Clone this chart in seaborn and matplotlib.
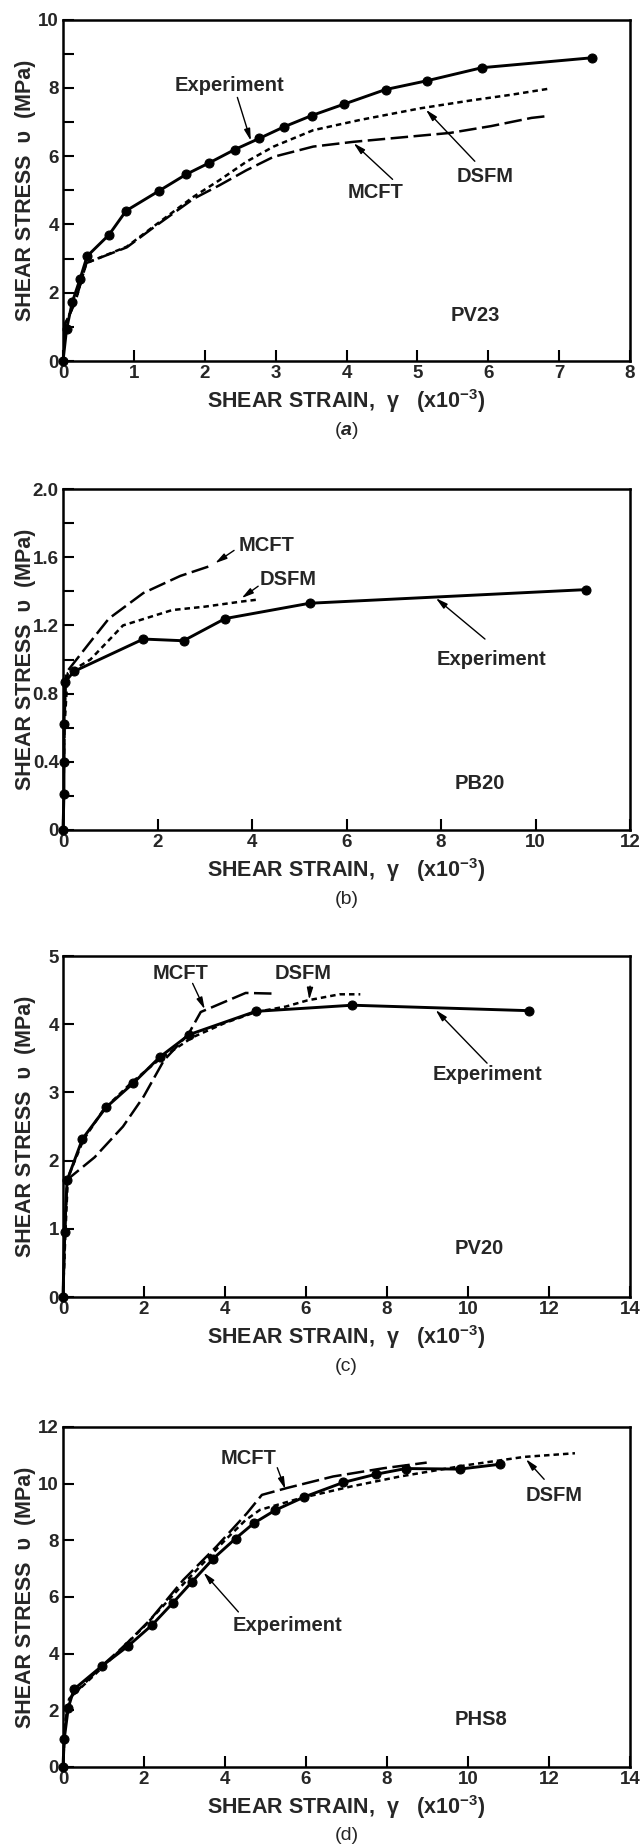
import numpy as np
import pandas as pd
import matplotlib
matplotlib.use("Agg")
import matplotlib.pyplot as plt
import seaborn as sns
from matplotlib.ticker import FixedLocator, FixedFormatter

# ---------------- data ----------------
# Panel (a) PV23
a_exp_x = [0, 0.05, 0.13, 0.24, 0.34, 0.65, 0.89, 1.36, 1.74, 2.06, 2.42, 2.77, 3.12, 3.51, 3.96, 4.55, 5.14, 5.91, 7.46]
a_exp_y = [0, 0.93, 1.72, 2.40, 3.07, 3.70, 4.40, 4.99, 5.47, 5.80, 6.19, 6.52, 6.86, 7.19, 7.52, 7.95, 8.21, 8.59, 8.88]
a_dsfm_x = [0, 0.03, 0.17, 0.26, 0.33, 0.90, 1.27, 1.84, 2.21, 2.59, 2.97, 3.53, 4.19, 5.04, 5.75, 6.33, 6.87]
a_dsfm_y = [0, 1.10, 1.70, 2.37, 2.87, 3.35, 3.93, 4.81, 5.30, 5.84, 6.28, 6.76, 7.06, 7.40, 7.63, 7.80, 7.98]
a_mcft_x = [0, 0.03, 0.17, 0.26, 0.33, 0.90, 1.27, 1.84, 2.21, 2.59, 2.97, 3.53, 4.10, 5.04, 5.46, 6.04, 6.61, 6.82]
a_mcft_y = [0, 1.10, 1.70, 2.37, 2.87, 3.33, 3.90, 4.75, 5.15, 5.59, 5.98, 6.28, 6.42, 6.60, 6.68, 6.88, 7.12, 7.17]

# Panel (b) PB20
b_exp_x = [0, 0.02, 0.02, 0.02, 0.05, 0.23, 1.70, 2.55, 3.43, 5.22, 11.07]
b_exp_y = [0, 0.21, 0.40, 0.62, 0.87, 0.93, 1.12, 1.11, 1.24, 1.33, 1.41]
b_mcft_x = [0, 0.03, 0.06, 0.54, 0.97, 1.70, 2.48, 3.13]
b_mcft_y = [0, 0.60, 0.92, 1.09, 1.24, 1.39, 1.49, 1.55]
b_dsfm_x = [0, 0.03, 0.10, 0.58, 1.27, 2.31, 3.00, 3.78, 4.08]
b_dsfm_y = [0, 0.60, 0.92, 1.00, 1.20, 1.29, 1.31, 1.34, 1.35]

# Panel (c) PV20
c_exp_x = [0, 0.04, 0.10, 0.48, 1.06, 1.74, 2.39, 3.12, 4.76, 7.14, 11.50]
c_exp_y = [0, 0.96, 1.71, 2.32, 2.78, 3.14, 3.52, 3.85, 4.19, 4.28, 4.20]
c_mcft_x = [0, 0.05, 0.10, 0.78, 1.48, 1.99, 2.49, 3.10, 3.40, 4.51, 5.22]
c_mcft_y = [0, 0.95, 1.72, 2.05, 2.50, 2.94, 3.47, 3.86, 4.18, 4.46, 4.45]
c_dsfm_x = [0, 0.06, 0.12, 0.50, 1.00, 1.70, 2.39, 3.20, 4.00, 4.76, 5.50, 6.03, 6.83, 7.34]
c_dsfm_y = [0, 0.95, 1.75, 2.30, 2.75, 3.15, 3.49, 3.81, 4.02, 4.18, 4.26, 4.35, 4.44, 4.44]

# Panel (d) PHS8
d_exp_x = [0, 0.03, 0.13, 0.27, 0.96, 1.61, 2.20, 2.72, 3.19, 3.71, 4.26, 4.71, 5.24, 5.96, 6.92, 7.73, 8.46, 9.79, 10.78]
d_exp_y = [0, 0.98, 2.09, 2.74, 3.56, 4.27, 5.01, 5.80, 6.54, 7.35, 8.06, 8.60, 9.06, 9.53, 10.04, 10.33, 10.53, 10.51, 10.68]
d_mcft_x = [0, 0.05, 0.15, 1.00, 1.51, 2.15, 2.97, 3.79, 4.54, 4.91, 5.52, 6.67, 7.91, 8.98]
d_mcft_y = [0, 1.50, 2.40, 3.62, 4.27, 5.19, 6.60, 7.78, 8.95, 9.60, 9.84, 10.25, 10.54, 10.74]
d_dsfm_x = [0, 0.05, 0.15, 1.00, 2.00, 3.00, 4.00, 4.50, 4.86, 5.85, 7.09, 8.32, 9.97, 11.38, 12.64]
d_dsfm_y = [0, 1.50, 2.40, 3.55, 4.95, 6.50, 8.00, 8.70, 9.07, 9.48, 9.89, 10.25, 10.65, 10.94, 11.07]

# ticks
a_xticks = [0, 1, 2, 3, 4, 5, 6, 7, 8]
a_xticklabels = ["0", "1", "2", "3", "4", "5", "6", "7", "8"]
a_yticks = [0, 2, 4, 6, 8, 10]
a_yticklabels = ["0", "2", "4", "6", "8", "10"]
a_yminor = [1, 3, 5, 7, 9]

b_xticks = [0, 2, 4, 6, 8, 10, 12]
b_xticklabels = ["0", "2", "4", "6", "8", "10", "12"]
b_yticks = [0, 0.4, 0.8, 1.2, 1.6, 2.0]
b_yticklabels = ["0", "0.4", "0.8", "1.2", "1.6", "2.0"]
b_yminor = [0.2, 0.6, 1.0, 1.4, 1.8]

c_xticks = [0, 2, 4, 6, 8, 10, 12, 14]
c_xticklabels = ["0", "2", "4", "6", "8", "10", "12", "14"]
c_yticks = [0, 1, 2, 3, 4, 5]
c_yticklabels = ["0", "1", "2", "3", "4", "5"]
c_yminor = []

d_xticks = [0, 2, 4, 6, 8, 10, 12, 14]
d_xticklabels = ["0", "2", "4", "6", "8", "10", "12", "14"]
d_yticks = [0, 2, 4, 6, 8, 10, 12]
d_yticklabels = ["0", "2", "4", "6", "8", "10", "12"]
d_yminor = []

specimens = ["PV23", "PB20", "PV20", "PHS8"]
captions = [r"($\mathit{a}$)", "(b)", "(c)", "(d)"]
xlabel_text = "SHEAR STRAIN,  \u03b3   (x10$^{\\mathbf{-3}}$)"
ylabel_text = "SHEAR STRESS  \u03c5  (MPa)"

# ---------------- style ----------------
sns.set_style("white")
FONTS = ["Liberation Sans", "DejaVu Sans"]
plt.rcParams["font.family"] = FONTS
plt.rcParams["font.weight"] = "bold"
plt.rcParams["mathtext.fontset"] = "custom"
plt.rcParams["mathtext.rm"] = "Liberation Sans"
plt.rcParams["mathtext.it"] = "Liberation Sans:italic"
plt.rcParams["mathtext.bf"] = "Liberation Sans:bold"

fig = plt.figure(figsize=(6.41, 18.44), dpi=100)
left, width = 0.0983, 0.8846
boxes = [(0.8042, 0.1852), (0.5499, 0.1849), (0.2966, 0.1849), (0.0418, 0.1844)]

panels = [
    dict(exp=(a_exp_x, a_exp_y), mcft=(a_mcft_x, a_mcft_y), dsfm=(a_dsfm_x, a_dsfm_y),
         xlim=(0, 8), ylim=(0, 10), xt=(a_xticks, a_xticklabels), yt=(a_yticks, a_yticklabels), ym=a_yminor,
         notes=[("Experiment", (2.35, 8.07), (2.46, 7.72), (2.65, 6.45)),
                ("DSFM", (5.95, 5.41), (5.81, 5.85), (5.12, 7.36)),
                ("MCFT", (4.41, 4.93), (4.65, 5.32), (4.10, 6.38))],
         spec=(5.82, 1.32)),
    dict(exp=(b_exp_x, b_exp_y), mcft=(b_mcft_x, b_mcft_y), dsfm=(b_dsfm_x, b_dsfm_y),
         xlim=(0, 12), ylim=(0, 2.0), xt=(b_xticks, b_xticklabels), yt=(b_yticks, b_yticklabels), ym=b_yminor,
         notes=[("MCFT", (4.30, 1.67), (3.62, 1.64), (3.22, 1.565)),
                ("DSFM", (4.77, 1.47), (4.13, 1.43), (3.78, 1.36)),
                ("Experiment", (9.06, 1.00), (8.93, 1.12), (7.89, 1.36))],
         spec=(8.82, 0.27)),
    dict(exp=(c_exp_x, c_exp_y), mcft=(c_mcft_x, c_mcft_y), dsfm=(c_dsfm_x, c_dsfm_y),
         xlim=(0, 14), ylim=(0, 5), xt=(c_xticks, c_xticklabels), yt=(c_yticks, c_yticklabels), ym=c_yminor,
         notes=[("MCFT", (2.90, 4.74), (3.20, 4.60), (3.50, 4.22)),
                ("DSFM", (5.93, 4.74), (6.10, 4.56), (6.08, 4.36)),
                ("Experiment", (10.47, 3.27), (10.47, 3.43), (9.20, 4.21))],
         spec=(10.27, 0.71)),
    dict(exp=(d_exp_x, d_exp_y), mcft=(d_mcft_x, d_mcft_y), dsfm=(d_dsfm_x, d_dsfm_y),
         xlim=(0, 14), ylim=(0, 12), xt=(d_xticks, d_xticklabels), yt=(d_yticks, d_yticklabels), ym=d_yminor,
         notes=[("MCFT", (4.58, 10.88), (5.29, 10.56), (5.49, 9.80)),
                ("DSFM", (12.13, 9.58), (11.88, 10.15), (11.43, 10.86)),
                ("Experiment", (5.54, 4.98), (4.33, 5.47), (3.47, 6.86))],
         spec=(10.32, 1.68)),
]

for i, (p, (bot, h)) in enumerate(zip(panels, boxes)):
    ax = fig.add_axes([left, bot, width, h])
    mx, my = p["mcft"]
    sns.lineplot(x=mx, y=my, ax=ax, sort=False, estimator=None, color="black",
                 lw=1.8, linestyle=(0, (7, 2.2)))
    dx, dy = p["dsfm"]
    sns.lineplot(x=dx, y=dy, ax=ax, sort=False, estimator=None, color="black",
                 lw=1.8, linestyle=(0, (2.2, 1.6)))
    ex, ey = p["exp"]
    sns.lineplot(x=ex, y=ey, ax=ax, sort=False, estimator=None, color="black",
                 lw=2.1, marker="o", markersize=6.5, markeredgecolor="black",
                 markerfacecolor="black", clip_on=False, zorder=5)

    ax.set_xlim(*p["xlim"])
    ax.set_ylim(*p["ylim"])
    ax.xaxis.set_major_locator(FixedLocator(p["xt"][0]))
    ax.xaxis.set_major_formatter(FixedFormatter(p["xt"][1]))
    ax.yaxis.set_major_locator(FixedLocator(p["yt"][0]))
    ax.yaxis.set_major_formatter(FixedFormatter(p["yt"][1]))
    ax.yaxis.set_minor_locator(FixedLocator(p["ym"]))
    ax.tick_params(which="both", direction="in", length=8, width=1.5,
                   bottom=True, left=True, top=False, right=False, color="black")
    ax.tick_params(axis="x", pad=3, labelsize=13.5)
    ax.tick_params(axis="y", pad=3, labelsize=13.5)
    for lab in ax.get_xticklabels() + ax.get_yticklabels():
        lab.set_fontweight("bold")
    for s in ax.spines.values():
        s.set_visible(True)
        s.set_linewidth(1.8)
        s.set_color("black")

    ax.set_xlabel(xlabel_text, fontsize=15.5, fontweight="bold")
    ax.xaxis.set_label_coords(0.5, -0.118)
    ax.xaxis.label.set_va("center")
    ax.set_ylabel(ylabel_text, fontsize=15.5, fontweight="bold")
    ax.yaxis.set_label_coords(-0.067, 0.5)
    ax.yaxis.label.set_va("center")

    ax.text(0.5, -0.203, captions[i], transform=ax.transAxes, ha="center", va="center",
            fontsize=14, fontweight="normal")

    for label, tpos, tail, tip in p["notes"]:
        ax.text(*tpos, label, ha="center", va="center", fontsize=14.5, fontweight="bold")
        ax.annotate("", xy=tip, xytext=tail,
                    arrowprops=dict(arrowstyle="-|>,head_length=0.7,head_width=0.18",
                                    color="black", lw=1.0, shrinkA=0, shrinkB=0))
    ax.text(*p["spec"], specimens[i], ha="center", va="center", fontsize=14.5, fontweight="bold")

fig.savefig("out.png", dpi=100)
